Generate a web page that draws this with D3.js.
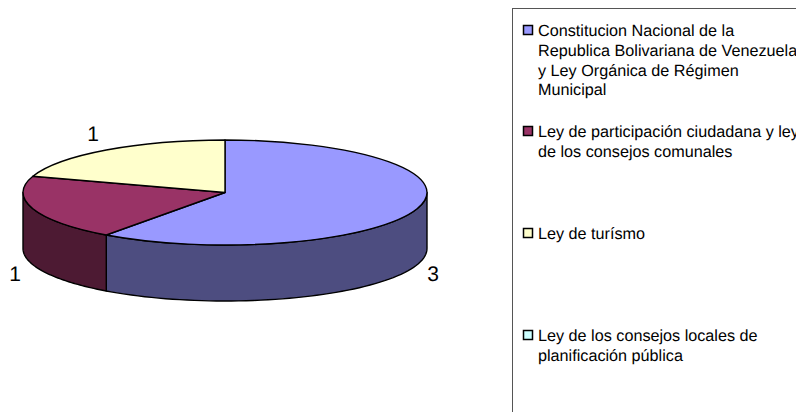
<!DOCTYPE html>
<html>
<head>
<meta charset="utf-8">
<script src="https://cdnjs.cloudflare.com/ajax/libs/d3/7.8.5/d3.min.js"></script>
<style>
  html, body { margin: 0; padding: 0; background: #fff; overflow: hidden; }
  text { font-family: "Liberation Sans", Arial, sans-serif; fill: #000; text-rendering: geometricPrecision; }
</style>
</head>
<body>
<div id="chart"></div>
<script>
const categories = [
  "Constitucion Nacional de la Republica Bolivariana de Venezuela y Ley Orgánica de Régimen Municipal",
  "Ley de participación ciudadana y ley de los consejos comunales",
  "Ley de turísmo",
  "Ley de los consejos locales de planificación pública"
];
const values = [3, 1, 1, 0];
const topColors = ["#9999ff", "#993366", "#ffffcc", "#ccffff"];
const sideColors = ["#4d4d80", "#4d1a33", "#808066", "#668080"];
const legendLines = [
  ["Constitucion Nacional de la", "Republica Bolivariana de Venezuela", "y Ley Orgánica de Régimen", "Municipal"],
  ["Ley de participación ciudadana y ley", "de los consejos comunales"],
  ["Ley de turísmo"],
  ["Ley de los consejos locales de", "planificación pública"]
];
const legendBaselines = [36, 137, 239, 341];

const width = 796, height = 412;
const cx = 225, cy = 192.5, rx = 202, ry = 52.5, depth = 56;

const svg = d3.select("#chart").append("svg")
    .attr("width", width)
    .attr("height", height)
    .style("display", "block");

const pie = d3.pie().sort(null).value(d => d);
const slices = pie(values);

// screen position of a pie angle on the tilted ellipse
const ex = a => cx + rx * Math.sin(a);
const ey = a => cy - ry * Math.cos(a);

// side walls, only the front half (90deg to 270deg) shows
const line = d3.line();
slices.forEach((s, i) => {
  const a0 = Math.max(s.startAngle, Math.PI / 2);
  const a1 = Math.min(s.endAngle, Math.PI * 1.5);
  if (a1 <= a0) return;
  const angles = d3.range(0, 61).map(k => a0 + (a1 - a0) * k / 60);
  const pts = angles.map(a => [ex(a), ey(a)])
    .concat(angles.slice().reverse().map(a => [ex(a), ey(a) + depth]));
  svg.append("path")
    .attr("d", line(pts) + "Z")
    .attr("fill", sideColors[i])
    .attr("stroke", "#000")
    .attr("stroke-width", 1.4)
    .attr("stroke-linejoin", "round");
});

// top face: d3.arc squashed into an ellipse
const arc = d3.arc().innerRadius(0).outerRadius(rx);
svg.append("g")
    .attr("transform", `translate(${cx},${cy}) scale(1,${ry / rx})`)
  .selectAll("path")
  .data(slices.filter(s => s.value > 0))
  .enter().append("path")
    .attr("d", arc)
    .attr("fill", d => topColors[d.index])
    .attr("stroke", "#000")
    .attr("stroke-width", 1.4)
    .attr("stroke-linejoin", "round")
    .attr("vector-effect", "non-scaling-stroke");

// data labels
const labelPos = [[433, 281], [15, 281], [93, 141]];
slices.filter(s => s.value > 0).forEach((s, i) => {
  svg.append("text")
    .attr("x", labelPos[i][0])
    .attr("y", labelPos[i][1])
    .attr("text-anchor", "middle")
    .attr("font-size", 21)
    .text(s.value);
});

// legend, runs off the right and bottom of the picture
svg.append("rect")
    .attr("x", 512.5)
    .attr("y", 8.5)
    .attr("width", 320)
    .attr("height", 440)
    .attr("fill", "#fff")
    .attr("stroke", "#555")
    .attr("stroke-width", 1);

const legend = svg.selectAll("g.legend")
  .data(categories)
  .enter().append("g")
    .attr("class", "legend")
    .attr("transform", (d, i) => `translate(0,${legendBaselines[i]})`);

legend.append("rect")
    .attr("x", 523.5)
    .attr("y", -10.5)
    .attr("width", 9)
    .attr("height", 9)
    .attr("fill", (d, i) => topColors[i])
    .attr("stroke", "#000")
    .attr("stroke-width", 1.5);

legend.each(function(d, i) {
  d3.select(this).selectAll("text")
    .data(legendLines[i])
    .enter().append("text")
      .attr("x", 538)
      .attr("y", (t, k) => k * 19.8)
      .attr("font-size", 16.2)
      .text(t => t);
});
</script>
</body>
</html>
